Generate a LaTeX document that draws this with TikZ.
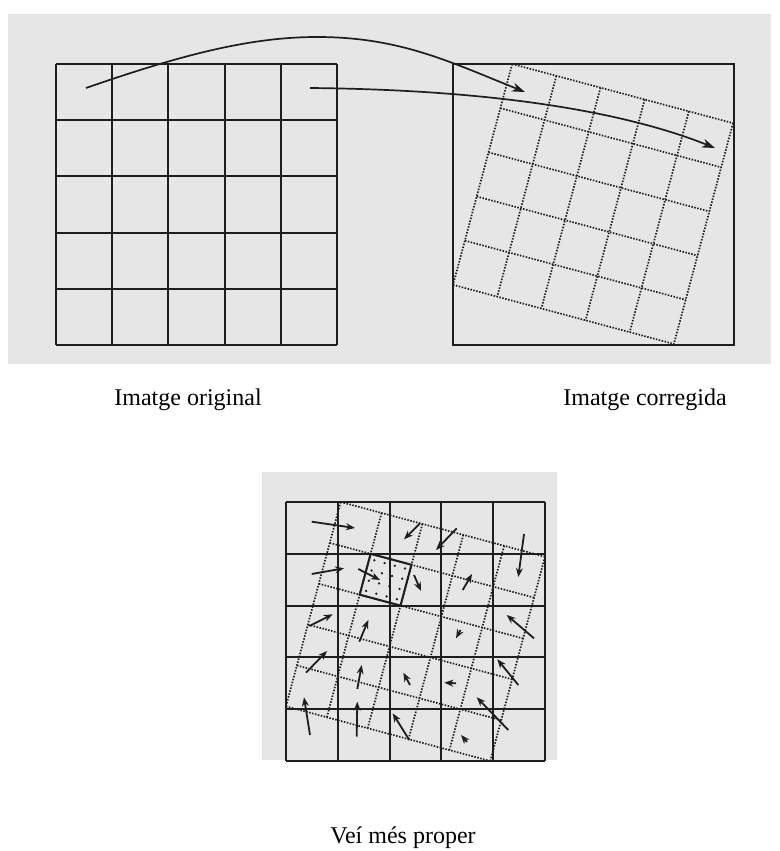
\documentclass[tikz,border=0pt]{standalone}
\usepackage{fontspec}
\setmainfont{Liberation Serif}
\usetikzlibrary{arrows.meta}
\definecolor{paper}{HTML}{E6E6E6}
\definecolor{ink}{HTML}{1E1E1E}

\tikzset{
  solidgrid/.style={draw=ink, line width=2pt},
  dotgrid/.style={draw=ink, line width=1.7pt, dash pattern=on 1.5pt off 1.5pt},
  warp/.style={draw=ink, line width=1.7pt, -{Stealth[length=13pt, width=9pt, inset=4pt]}},
  vec/.style={draw=ink, line width=1.8pt, -{Stealth[length=9pt, width=7pt]}},
  lbl/.style={font=\fontsize{24}{28}\selectfont, inner sep=0pt, anchor=base},
}

\begin{document}
\begin{tikzpicture}[x=1pt, y=-1pt]
  \fill[white] (0,0) rectangle (779,851);
  \useasboundingbox (0,0) rectangle (779,851);

  % grey backgrounds
  \fill[paper] (8,14) rectangle (771,364);
  \fill[paper] (262,472) rectangle (557,760);

  % original image
  \foreach \i in {0,...,5} {
    \draw[solidgrid] ({56+56.2*\i},64) -- ({56+56.2*\i},345);
    \draw[solidgrid] (56,{64+56.2*\i}) -- (337,{64+56.2*\i});
  }

  % corrected image
  \draw[solidgrid] (453,64) rectangle (734,345);
  \begin{scope}[shift={(512.2,64)}, rotate=-15]
    \foreach \i in {0,...,5} {
      \draw[dotgrid] ({45.72*\i},0) -- ({45.72*\i},228.6);
      \draw[dotgrid] (0,{45.72*\i}) -- (228.6,{45.72*\i});
    }
  \end{scope}

  % mapping arrows
  \coordinate (fromA) at (86,88);
  \coordinate (apexA) at (317,37);
  \coordinate (toA) at (525,92);
  \coordinate (fromB) at (310,88);
  \coordinate (toB) at (715,148);
  \draw[warp] (fromA) .. controls (181,55) and (250,37) .. (apexA)
                      .. controls (400,37) and (450,62) .. (toA);
  \draw[warp] (fromB) .. controls (520,90) and (640,118) .. (toB);

  % nearest neighbour
  \foreach \i in {0,...,5} {
    \draw[solidgrid] ({286+51.8*\i},502) -- ({286+51.8*\i},761);
    \draw[solidgrid] (286,{502+51.8*\i}) -- (545,{502+51.8*\i});
  }
  \begin{scope}[shift={(340.7,502)}, rotate=-15]
    \foreach \i in {0,...,5} {
      \draw[dotgrid] ({42.3*\i},0) -- ({42.3*\i},211.5);
      \draw[dotgrid] (0,{42.3*\i}) -- (211.5,{42.3*\i});
    }
    \draw[solidgrid] (42.3,42.3) rectangle (84.6,84.6);
    \foreach \a in {1,3,5,7}
      \foreach \b in {1,3,5,7}
        \fill[ink] ({42.3+42.3*\a/8},{42.3+42.3*\b/8}) circle (1.3pt);
  \end{scope}

  \foreach \ax/\ay/\bx/\by [count=\k] in {
      311.7/521.7/355/528, 420/523.3/404/539.3, 456.7/528.3/436/550,
      524/534/518.3/577, 311.7/574/344/568.3, 358.3/569/380/580,
      414/575/421/591, 462.7/590/472/574, 309.3/626/332.7/614.3,
      359.3/641.7/368.3/620, 460.5/630/456/638.3, 534/638.3/506.7/615,
      306/672.7/327/651, 357.3/689/361.7/665, 410/685/403.3/672.7,
      456/683.3/444.3/682.7, 518.3/685/497.3/659.3, 310/735/304/697.3,
      356.7/736.7/357.3/701.7, 409.3/740/392.7/713.3, 467/742/461/735,
      508.3/730/476.7/697.3} {
    \coordinate (t\k) at (\ax,\ay);
    \coordinate (h\k) at (\bx,\by);
    \draw[vec] (t\k) -- (h\k);
  }

  % captions
  \node[lbl] (orig) at (188,405) {Imatge original};
  \node[lbl] (corr) at (645,405) {Imatge corregida};
  \node[lbl] (nearest) at (403,843) {Veí més proper};
\end{tikzpicture}
\end{document}
